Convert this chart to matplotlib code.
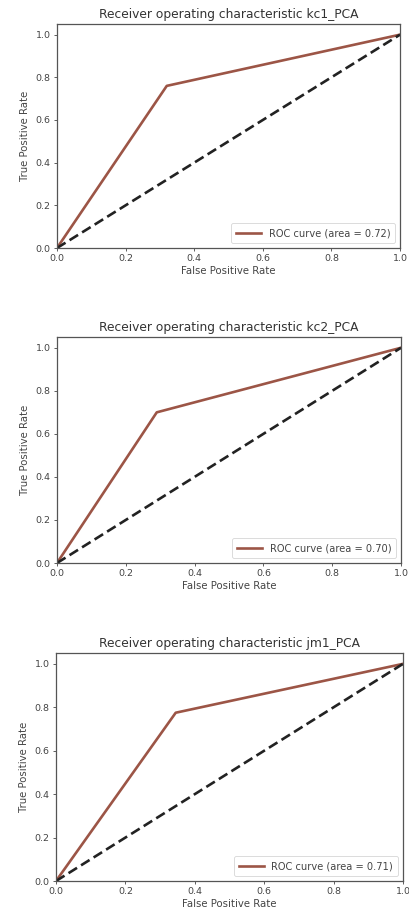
import matplotlib
matplotlib.use("Agg")
import matplotlib.pyplot as plt

titles = ["Receiver operating characteristic kc1_PCA",
          "Receiver operating characteristic kc2_PCA",
          "Receiver operating characteristic jm1_PCA"]
fpr_list = [[0.0, 0.32, 1.0], [0.0, 0.29, 1.0], [0.0, 0.345, 1.0]]
tpr_list = [[0.0, 0.76, 1.0], [0.0, 0.70, 1.0], [0.0, 0.775, 1.0]]
auc_list = [0.72, 0.70, 0.71]
ticks = [0.0, 0.2, 0.4, 0.6, 0.8, 1.0]
tick_labels = ["0.0", "0.2", "0.4", "0.6", "0.8", "1.0"]

W, H = 409, 913
fig = plt.figure(figsize=(W / 100, H / 100), dpi=100)

# pixel boxes: left, top, right, bottom
boxes = [(57, 24, 400, 248), (57, 337, 401, 563), (56, 653, 403, 881)]

line_color = "#9c5546"
for i, (l, t, r, b) in enumerate(boxes):
    ax = fig.add_axes([l / W, 1 - b / H, (r - l) / W, (b - t) / H])
    ax.plot(fpr_list[i], tpr_list[i], color=line_color, lw=1.9,
            label="ROC curve (area = %0.2f)" % auc_list[i])
    ax.plot([0, 1], [0, 1], color="#222222", lw=1.9, linestyle=(0, (3.8, 1.8)))
    ax.set_xlim(0.0, 1.0)
    ax.set_ylim(0.0, 1.05)
    ax.set_xticks(ticks)
    ax.set_xticklabels(tick_labels)
    ax.set_yticks(ticks)
    ax.set_yticklabels(tick_labels)
    ax.tick_params(labelsize=6.8, length=2.5, width=0.6, pad=2, colors="#444444")
    for s in ax.spines.values():
        s.set_linewidth(0.9)
        s.set_color("#555555")
    ax.set_xlabel("False Positive Rate", fontsize=7.3, color="#444444", labelpad=2)
    ax.set_ylabel("True Positive Rate", fontsize=7.3, color="#444444", labelpad=4)
    ax.set_title(titles[i], fontsize=8.8, color="#333333", pad=4)
    leg = ax.legend(loc="lower right", fontsize=7.1, handlelength=2.5,
                    borderpad=0.5, labelcolor="#444444")
    leg.get_frame().set_linewidth(0.6)

fig.savefig("out.png", dpi=100)
